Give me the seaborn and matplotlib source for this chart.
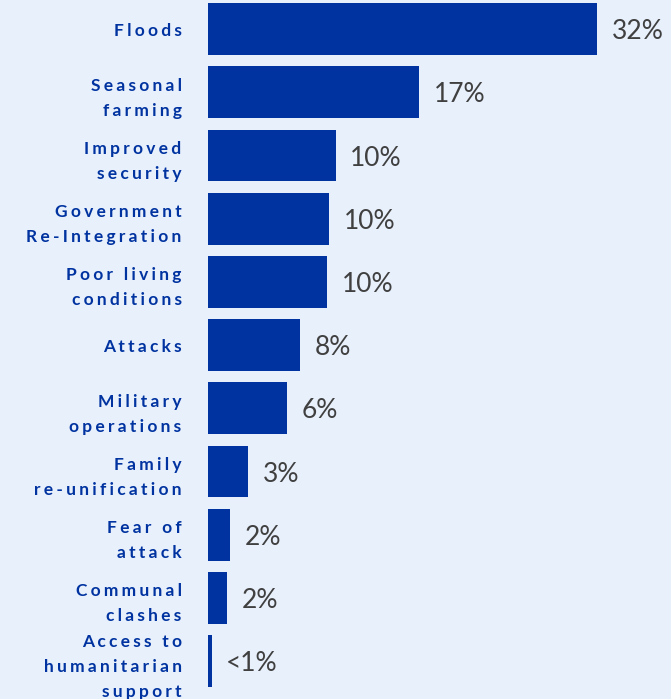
import matplotlib
matplotlib.use('Agg')
import matplotlib.pyplot as plt
import seaborn as sns
import pandas as pd

# reasons for return, share of answers (%)
reasons = ['Floods', 'Seasonal\nfarming', 'Improved\nsecurity', 'Government\nRe-Integration',
           'Poor living\nconditions', 'Attacks', 'Military\noperations', 'Family\nre-unification',
           'Fear of\nattack', 'Communal\nclashes', 'Access to\nhumanitarian\nsupport']
shares = [32, 17.4, 10.5, 9.95, 9.8, 7.6, 6.5, 3.3, 1.8, 1.55, 0.3]
value_labels = ['32%', '17%', '10%', '10%', '10%', '8%', '6%', '3%', '2%', '2%', '<1%']

bg = '#e8f0fc'
blue = '#0033a0'

# letter-spaced labels, like the original
def spaced(s):
    return '\n'.join('\u2009\u200a'.join(line) for line in s.split('\n'))

df = pd.DataFrame({'reason': reasons, 'share': shares})

sns.set_theme(style='white')
plt.rcParams['font.family'] = ['Lato', 'DejaVu Sans']

fig = plt.figure(figsize=(6.71, 6.99), dpi=100, facecolor=bg)
ax = fig.add_axes([208 / 671, 0, 463 / 671, 1])
ax.set_facecolor(bg)

sns.barplot(data=df, x='share', y='reason', color=blue, saturation=1, width=0.82,
            linewidth=0, ax=ax)

for i, (v, t) in enumerate(zip(shares, value_labels)):
    ax.text(v + 1.2, i + 0.04, t, va='center', ha='left', fontsize=19, fontweight='normal',
            color='#404040')

ax.set_xlim(0, 38.1)
ax.set_ylim(10.6, -0.46)
ax.set_xticks([])
ax.set_yticks(range(len(reasons)))
ax.set_yticklabels([spaced(r) for r in reasons], fontsize=12.5, fontweight='bold',
                   color=blue, linespacing=1.7, multialignment='right')
ax.tick_params(axis='y', length=0, pad=19)
ax.set_xlabel('')
ax.set_ylabel('')
sns.despine(ax=ax, left=True, bottom=True)

fig.savefig('out.png', dpi=100, facecolor=bg)
